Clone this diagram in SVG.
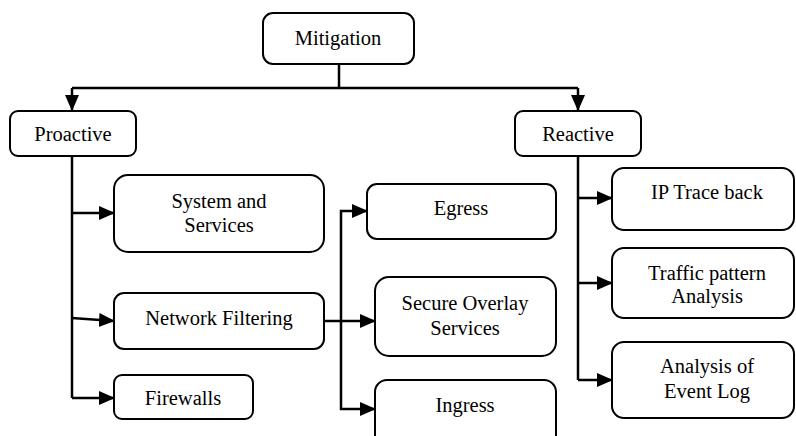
<svg xmlns="http://www.w3.org/2000/svg" width="796" height="436" viewBox="0 0 796 436">
<style>
.box{fill:#fff;stroke:#000;stroke-width:2}
.t{font-family:"Liberation Serif","Times New Roman",serif;font-size:20.5px;fill:#000;text-anchor:middle}
.c{fill:none;stroke:#000;stroke-width:2.5}
</style>
<defs>
<marker id="ah" markerUnits="userSpaceOnUse" markerWidth="16" markerHeight="16" viewBox="0 0 16 14" refX="15" refY="7" orient="auto">
<path d="M0,0 L16,7 L0,14 Z" fill="#000"/>
</marker>
</defs>
<rect width="796" height="436" fill="#fff"/>
<g id="connectors">
<path class="c" d="M339,64 V88"/>
<path class="c" d="M72,88 H578"/>
<path class="c" d="M72,88 V110" marker-end="url(#ah)"/>
<path class="c" d="M578,88 V110" marker-end="url(#ah)"/>
<path class="c" d="M72,156 V398"/>
<path class="c" d="M72,213 H94 L114,213" marker-end="url(#ah)"/>
<path class="c" d="M72,318 L114,321" marker-end="url(#ah)"/>
<path class="c" d="M72,398 H114" marker-end="url(#ah)"/>
<path class="c" d="M324,321 H375" marker-end="url(#ah)"/>
<path class="c" d="M341,321 V211 H367" marker-end="url(#ah)"/>
<path class="c" d="M341,321 V409 H375" marker-end="url(#ah)"/>
<path class="c" d="M578,156 V380"/>
<path class="c" d="M578,198 H612" marker-end="url(#ah)"/>
<path class="c" d="M578,283 H612" marker-end="url(#ah)"/>
<path class="c" d="M578,380 H612" marker-end="url(#ah)"/>
</g>
<g id="mitigation"><rect class="box" x="263" y="13" width="151" height="51" rx="10"/><text class="t" x="338" y="45">Mitigation</text></g>
<g id="proactive"><rect class="box" x="10" y="111" width="126" height="45" rx="8"/><text class="t" x="73" y="141">Proactive</text></g>
<g id="reactive"><rect class="box" x="515" y="111" width="126" height="45" rx="8"/><text class="t" x="578" y="141">Reactive</text></g>
<g id="system"><rect class="box" x="114" y="175" width="210" height="77" rx="14"/><text class="t" x="219" y="208">System and</text><text class="t" x="219" y="232">Services</text></g>
<g id="network"><rect class="box" x="114" y="293" width="210" height="56" rx="10"/><text class="t" x="219" y="325">Network Filtering</text></g>
<g id="firewalls"><rect class="box" x="114" y="375" width="139" height="44" rx="8"/><text class="t" x="183" y="405">Firewalls</text></g>
<g id="egress"><rect class="box" x="367" y="184" width="189" height="55" rx="10"/><text class="t" x="461" y="215">Egress</text></g>
<g id="secure"><rect class="box" x="375" y="277" width="181" height="79" rx="14"/><text class="t" x="465" y="310">Secure Overlay</text><text class="t" x="465" y="335">Services</text></g>
<g id="ingress"><rect class="box" x="375" y="380" width="181" height="70" rx="12"/><text class="t" x="465" y="412">Ingress</text></g>
<g id="iptrace"><rect class="box" x="612" y="168" width="182" height="62" rx="12"/><text class="t" x="707" y="199">IP Trace back</text></g>
<g id="traffic"><rect class="box" x="612" y="248" width="182" height="70" rx="12"/><text class="t" x="707" y="280">Traffic pattern</text><text class="t" x="707" y="303">Analysis</text></g>
<g id="eventlog"><rect class="box" x="612" y="342" width="182" height="76" rx="12"/><text class="t" x="707" y="373">Analysis of</text><text class="t" x="707" y="398">Event Log</text></g>
</svg>
